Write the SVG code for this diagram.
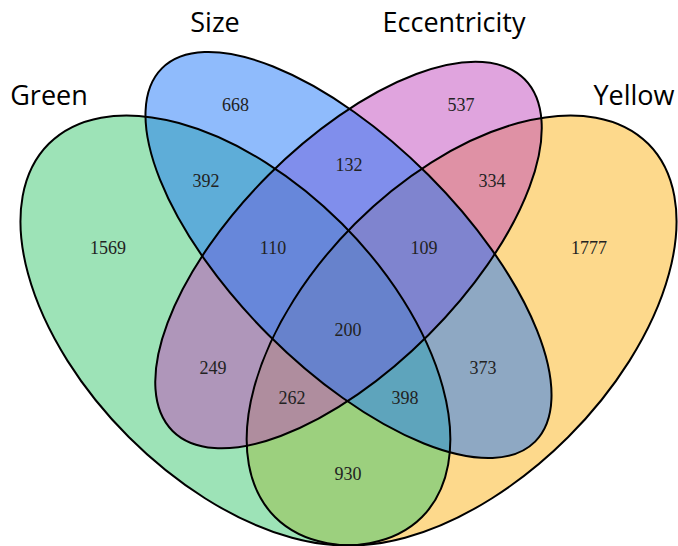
<svg xmlns="http://www.w3.org/2000/svg" width="678" height="546" viewBox="0 0 678 546">
<style>
.fill{stroke:none;fill-opacity:0.5}
.edge{fill:none;stroke:#000;stroke-width:2}
.num{font-family:"Liberation Serif","Times New Roman",serif;font-size:18px;fill:#222;text-anchor:middle}
.lab{font-family:"Open Sans","Liberation Sans",sans-serif;font-size:27px;fill:#000;text-anchor:middle}
</style>
<rect width="678" height="546" fill="#fff"/>
<g id="fills">
<ellipse id="yellow-fill" class="fill" cx="461.6" cy="330.4" rx="263.9" ry="150.8" transform="rotate(-45 461.6 330.4)" fill="#fbb319"/>
<ellipse id="green-fill" class="fill" cx="235.4" cy="330.4" rx="263.9" ry="150.8" transform="rotate(45 235.4 330.4)" fill="#3bc76f"/>
<ellipse id="ecc-fill" class="fill" cx="348.5" cy="255" rx="248.8" ry="113.1" transform="rotate(-45 348.5 255)" fill="#c149bd"/>
<ellipse id="size-fill" class="fill" cx="348.5" cy="255" rx="263.9" ry="113.1" transform="rotate(45 348.5 255)" fill="#1f77f9"/>
</g>
<g id="Yellow"><ellipse class="edge" cx="461.6" cy="330.4" rx="263.9" ry="150.8" transform="rotate(-45 461.6 330.4)"/><text class="lab" x="634" y="105">Yellow</text></g>
<g id="Green"><ellipse class="edge" cx="235.4" cy="330.4" rx="263.9" ry="150.8" transform="rotate(45 235.4 330.4)"/><text class="lab" x="49" y="105">Green</text></g>
<g id="Eccentricity"><ellipse class="edge" cx="348.5" cy="255" rx="248.8" ry="113.1" transform="rotate(-45 348.5 255)"/><text class="lab" x="454" y="32">Eccentricity</text></g>
<g id="Size"><ellipse class="edge" cx="348.5" cy="255" rx="263.9" ry="113.1" transform="rotate(45 348.5 255)"/><text class="lab" x="215" y="32">Size</text></g>
<g id="counts">
<text class="num" x="235.5" y="110.5">668</text>
<text class="num" x="461" y="110.5">537</text>
<text class="num" x="206" y="187">392</text>
<text class="num" x="349" y="171">132</text>
<text class="num" x="492" y="187">334</text>
<text class="num" x="108" y="254">1569</text>
<text class="num" x="273" y="254">110</text>
<text class="num" x="424" y="254">109</text>
<text class="num" x="589" y="254">1777</text>
<text class="num" x="348" y="336">200</text>
<text class="num" x="213" y="374">249</text>
<text class="num" x="483" y="374">373</text>
<text class="num" x="292" y="404">262</text>
<text class="num" x="405" y="404">398</text>
<text class="num" x="348" y="480">930</text>
</g>
</svg>
